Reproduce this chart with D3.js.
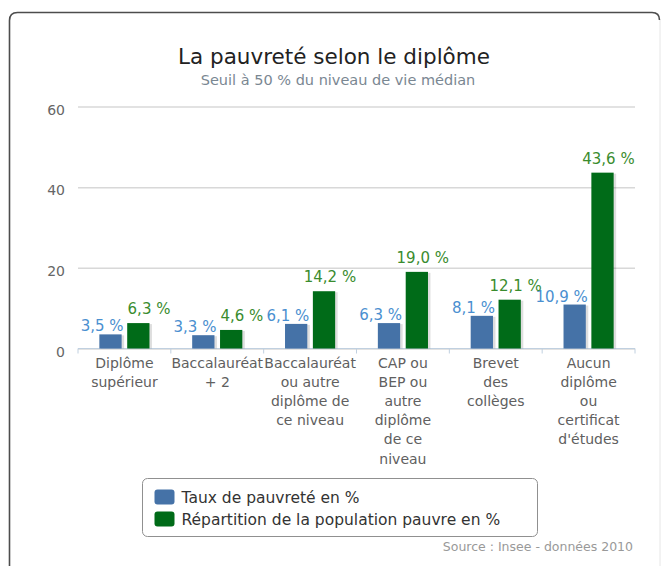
<!DOCTYPE html>
<html>
<head>
<meta charset="utf-8">
<script src="https://cdn.jsdelivr.net/npm/d3@7"></script>
<style>
  body { margin: 0; background: #fff; }
  text { font-family: "DejaVu Sans", Verdana, sans-serif; }
</style>
</head>
<body>
<div id="chart"></div>
<script>
// Data
var categories = [
  ["Diplôme", "supérieur"],
  ["Baccalauréat", "+ 2"],
  ["Baccalauréat", "ou autre", "diplôme de", "ce niveau"],
  ["CAP ou", "BEP ou", "autre", "diplôme", "de ce", "niveau"],
  ["Brevet", "des", "collèges"],
  ["Aucun", "diplôme", "ou", "certificat", "d'études"]
];
var seriesNames = ["Taux de pauvreté en %", "Répartition de la population pauvre en %"];
var tauxPauvrete = [3.5, 3.3, 6.1, 6.3, 8.1, 10.9];
var repartition = [6.3, 4.6, 14.2, 19.0, 12.1, 43.6];
var yTicks = [0, 20, 40, 60];

var barColors = ["#4572a7", "#006b18"];
var labelColors = ["#4a8fd0", "#3a8c2e"];

var width = 664, height = 566;
var margin = { top: 106.5, right: 29, bottom: 217.5, left: 78 };
var plotW = width - margin.left - margin.right;
var plotH = height - margin.top - margin.bottom;

var svg = d3.select("#chart")
  .append("svg")
  .attr("width", width)
  .attr("height", height);

// outer frame (runs off the bottom of the picture)
svg.append("path")
  .attr("d", "M9.5,600 L9.5,20.5 Q9.5,12.5 17.5,12.5 L652,12.5 Q659.5,12.5 659.5,20")
  .attr("fill", "none")
  .attr("stroke", "#4d4d4d")
  .attr("stroke-width", 1.6);
svg.append("line")
  .attr("x1", 660).attr("x2", 660).attr("y1", 20).attr("y2", 600)
  .attr("stroke", "#e6e6e6");

// titles
svg.append("text")
  .attr("x", 334).attr("y", 64)
  .attr("text-anchor", "middle")
  .style("font-size", "21.5px")
  .style("fill", "#222")
  .text("La pauvreté selon le diplôme");

svg.append("text")
  .attr("x", 338).attr("y", 85)
  .attr("text-anchor", "middle")
  .style("font-size", "14.5px")
  .style("fill", "#7a8792")
  .text("Seuil à 50 % du niveau de vie médian");

var g = svg.append("g")
  .attr("transform", "translate(" + margin.left + "," + margin.top + ")");

// scales
var x0 = d3.scaleBand()
  .domain(d3.range(categories.length))
  .range([0, plotW]);

var bw = x0.bandwidth();
var x1 = d3.scaleBand()
  .domain([0, 1])
  .range([bw * 0.2, bw * 0.8])
  .paddingInner(0.2)
  .paddingOuter(0.1);

var yScale = d3.scaleLinear()
  .domain([0, 60])
  .range([plotH, 0]);

// grid + y labels
var yAxis = d3.axisLeft(yScale)
  .tickValues(yTicks)
  .tickSize(-plotW)
  .tickPadding(13);

var yg = g.append("g").attr("class", "yaxis").call(yAxis);
yg.select(".domain").remove();
yg.selectAll(".tick line").attr("stroke", "#d8d8d8").attr("stroke-width", 1.5);
yg.selectAll(".tick text")
  .attr("dy", "0.55em")
  .style("font-size", "14px")
  .style("fill", "#666")
  .style("font-family", "DejaVu Sans, sans-serif");

// x axis line and ticks at category edges
g.append("line")
  .attr("x1", 0).attr("x2", plotW)
  .attr("y1", plotH).attr("y2", plotH)
  .attr("stroke", "#c0d0e0");

g.selectAll(".xtick")
  .data(d3.range(categories.length + 1))
  .enter()
  .append("line")
  .attr("class", "xtick")
  .attr("x1", function(d) { return d * bw; })
  .attr("x2", function(d) { return d * bw; })
  .attr("y1", plotH)
  .attr("y2", plotH + 5)
  .attr("stroke", "#c0d0e0");

// category labels
var catLabels = g.selectAll(".cat")
  .data(categories)
  .enter()
  .append("text")
  .attr("class", "cat")
  .attr("text-anchor", "middle")
  .attr("transform", function(d, i) { return "translate(" + (x0(i) + bw / 2) + "," + (plotH + 19) + ")"; })
  .style("font-size", "14px")
  .style("fill", "#606060");

catLabels.selectAll("tspan")
  .data(function(d) { return d; })
  .enter()
  .append("tspan")
  .attr("x", 0)
  .attr("y", function(d, i) { return i * 19.2; })
  .text(function(d) { return d; });

// bars
var series = [tauxPauvrete, repartition];
var fmt = function(v) { return d3.format(".1f")(v).replace(".", ",") + " %"; };

series.forEach(function(values, s) {
  var sg = g.append("g").attr("class", "series" + s);

  // soft shadow
  sg.selectAll(".shadow")
    .data(values)
    .enter()
    .append("rect")
    .attr("x", function(d, i) { return x0(i) + x1(s) + 1.5; })
    .attr("y", function(d) { return yScale(d) + 1; })
    .attr("width", x1.bandwidth() + 1)
    .attr("height", function(d) { return plotH - yScale(d) - 1; })
    .attr("fill", "#000")
    .attr("opacity", 0.13);

  sg.selectAll(".bar")
    .data(values)
    .enter()
    .append("rect")
    .attr("class", "bar")
    .attr("x", function(d, i) { return x0(i) + x1(s); })
    .attr("y", function(d) { return yScale(d); })
    .attr("width", x1.bandwidth())
    .attr("height", function(d) { return plotH - yScale(d); })
    .attr("fill", barColors[s]);

  sg.selectAll(".lbl")
    .data(values)
    .enter()
    .append("text")
    .attr("class", "lbl")
    .attr("text-anchor", "end")
    .attr("x", function(d, i) { return x0(i) + x1(s) + x1.bandwidth() + (s === 0 ? 2 : 21); })
    .attr("y", function(d) { return yScale(d) - (s === 0 ? 3 : 9); })
    .style("font-size", "15px")
    .style("fill", labelColors[s])
    .text(fmt);
});

// legend
var legend = svg.append("g").attr("transform", "translate(142.5,478.5)");
legend.append("rect")
  .attr("width", 395)
  .attr("height", 58)
  .attr("rx", 5)
  .attr("fill", "#fff")
  .attr("stroke", "#909090");

var items = legend.selectAll(".item")
  .data(seriesNames)
  .enter()
  .append("g")
  .attr("class", "item")
  .attr("transform", function(d, i) { return "translate(12," + (11 + i * 22) + ")"; });

items.append("rect")
  .attr("width", 20)
  .attr("height", 15)
  .attr("rx", 3)
  .attr("fill", function(d, i) { return barColors[i]; });

items.append("text")
  .attr("x", 27)
  .attr("y", 13)
  .style("font-size", "15.5px")
  .style("fill", "#333")
  .text(function(d) { return d; });

// source
svg.append("text")
  .attr("x", 633).attr("y", 551)
  .attr("text-anchor", "end")
  .style("font-size", "12.5px")
  .style("fill", "#999")
  .text("Source : Insee - données 2010");
</script>
</body>
</html>
